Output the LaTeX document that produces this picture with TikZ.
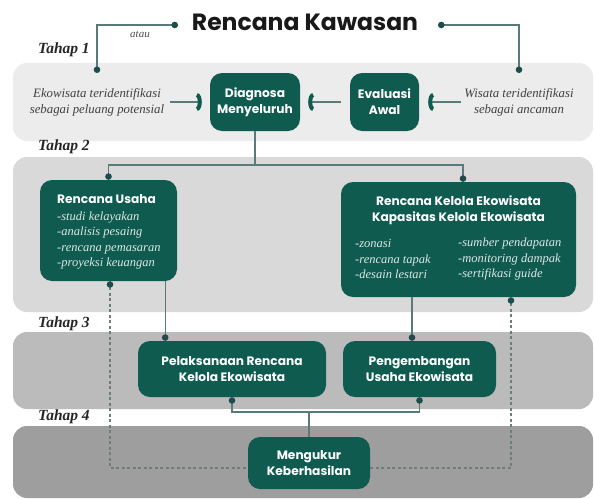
\documentclass[tikz,border=0pt]{standalone}
\usepackage{fontspec}
\setmainfont{Liberation Serif}
\newfontfamily\headfont{Poppins}
\usetikzlibrary{arrows.meta}
\definecolor{ecoteal}{HTML}{0F5B50}
\definecolor{linkgray}{HTML}{5A7A79}
\definecolor{dotteal}{HTML}{1D4D4A}
\definecolor{dashgray}{HTML}{6E7C7B}
\definecolor{bandA}{HTML}{ECECEC}
\definecolor{bandB}{HTML}{D9D9D9}
\definecolor{bandC}{HTML}{BBBBBB}
\definecolor{bandD}{HTML}{9E9E9E}
\definecolor{itemtext}{HTML}{DCE8E5}
\tikzset{
  knob/.tip={Circle[length=6.5pt,color=dotteal]},
  chev/.tip={Arc Barb[length=5pt,width=18pt,line width=4pt,color=ecoteal]},
  band/.style={rounded corners=14pt},
  box/.style={fill=ecoteal, rounded corners=12pt, text=white, align=center, inner sep=0pt,
    font=\headfont\bfseries\fontsize{12.2}{16}\selectfont},
  items/.style={text=itemtext, align=left, inner sep=0pt, font=\itshape\fontsize{12.5}{15.5}\selectfont},
  lead/.style={text=black!75, align=center, inner sep=0pt, font=\itshape\fontsize{12.8}{16}\selectfont},
  tahap/.style={anchor=west, inner sep=0pt, text=black!85, font=\bfseries\itshape\fontsize{15.5}{18}\selectfont},
  link/.style={draw=linkgray, line width=1.4pt},
  dashlink/.style={draw=dashgray, line width=1.1pt, dash pattern=on 3pt off 2.5pt}
}
\begin{document}
\begin{tikzpicture}[x=1pt,y=-1pt]
\useasboundingbox (0,0) rectangle (594,498);
\fill[bandA, band] (13,63) rectangle (593,141);
\fill[bandB, band] (13,157) rectangle (593,312);
\fill[bandC, band] (13,332) rectangle (593,409);
\fill[bandD, band] (13,426) rectangle (593,498);

\node[inner sep=0pt, text=black!90, font=\headfont\bfseries\fontsize{23.5}{28}\selectfont] (kawasan) at (305,22) {Rencana Kawasan};
\node[inner sep=0pt, text=black!70, font=\itshape\fontsize{11}{13}\selectfont] (atau) at (140,34) {atau};
\node[tahap] (tahap1) at (38,50) {Tahap 1};
\node[tahap] (tahap2) at (38,147) {Tahap 2};
\node[tahap] (tahap3) at (38,324) {Tahap 3};
\node[tahap] (tahap4) at (38,417) {Tahap 4};

\node[lead] (eko) at (97,102) {Ekowisata teridentifikasi\\sebagai peluang potensial};
\node[lead] (wisata) at (519,102) {Wisata teridentifikasi\\sebagai ancaman};
\node[box, minimum width=90pt, minimum height=58pt] (diag) at (255,102) {Diagnosa\\Menyeluruh};
\node[box, minimum width=69pt, minimum height=58pt] (eval) at (384.5,102) {Evaluasi\\Awal};

\node[box, minimum width=137pt, minimum height=101pt] (usaha) at (108.5,230.5) {};
\node[items, anchor=west] (usahaText) at (57,232)
  {{\headfont\upshape\bfseries\fontsize{12.2}{15.5}\selectfont\color{white}Rencana Usaha}\\[1.5pt]
   -studi kelayakan\\-analisis pesaing\\-rencana pemasaran\\-proyeksi keuangan};
\node[box, minimum width=235pt, minimum height=115pt] (kelola) at (458.5,239.5) {};
\node[box, fill=none] (kelolaHead) at (458.5,210) {Rencana Kelola Ekowisata\\Kapasitas Kelola Ekowisata};
\node[items, anchor=west] (kelolaLeft) at (355,259) {-zonasi\\-rencana tapak\\-desain lestari};
\node[items, anchor=west] (kelolaRight) at (458,259) {-sumber pendapatan\\-monitoring dampak\\-sertifikasi guide};

\node[box, minimum width=188pt, minimum height=56pt] (laksana) at (232,369) {Pelaksanaan Rencana\\Kelola Ekowisata};
\node[box, minimum width=153pt, minimum height=56pt] (kembang) at (419.5,369) {Pengembangan\\Usaha Ekowisata};
\node[box, minimum width=122pt, minimum height=52pt] (ukur) at (309,463) {Mengukur\\Keberhasilan};

\coordinate (kawL) at (178,25);
\coordinate (kawR) at (438,25);
\coordinate (ekoTop) at (97,73);
\coordinate (wisTop) at (519,73);
\coordinate (split) at (255,165);
\coordinate (join) at (309,412);

\draw[link, knob-knob] (kawL) -| (ekoTop);
\draw[link, knob-knob] (kawR) -| (wisTop);
\draw[link, -chev, shorten <=6pt, shorten >=8pt] (eko.east) -- (diag.west);
\draw[link, -chev, shorten <=9pt, shorten >=8pt] (eval.west) -- (diag.east);
\draw[link, -chev, shorten <=3pt, shorten >=9pt] (wisata.west) -- (eval.east);

\draw[link] (diag.south) -- (split);
\draw[link, -knob] (split) -| (usaha.north);
\draw[link, -knob] (split) -| ([xshift=4.5pt]kelola.north);
\draw[link, -knob] ([xshift=-12pt]usaha.south east) -- ([xshift=-12pt]usaha.south east |- laksana.north);
\draw[link, -knob] ([xshift=-7.5pt]kembang.north |- kelola.south) -- ([xshift=-7.5pt]kembang.north);
\draw[link, knob-] (laksana.south) |- (join);
\draw[link, knob-] (kembang.south) |- (join);
\draw[link] (join) -- (ukur.north);

\draw[dashlink, knob-] ([xshift=1.5pt]usaha.south) |- ([yshift=-5pt]ukur.west);
\draw[dashlink, knob-] ([xshift=52.5pt]kelola.south) |- ([yshift=-5pt]ukur.east);
\end{tikzpicture}
\end{document}
